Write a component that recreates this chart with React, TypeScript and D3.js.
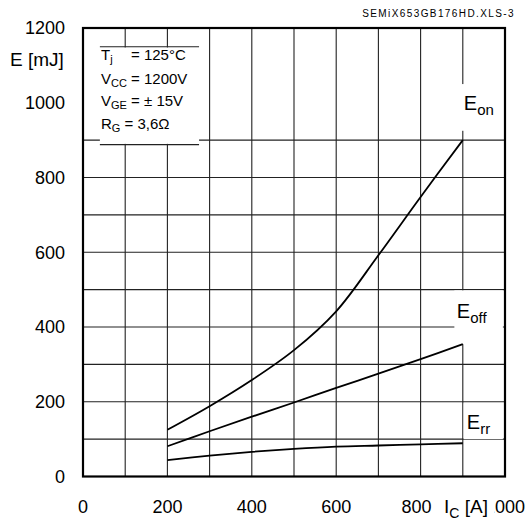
import React from "react";
import * as d3 from "d3";

const current = [200, 300, 400, 500, 600, 700, 800, 900];
const eOn = [125, 188, 258, 338, 442, 592, 748, 900];
const eOff = [81, 121, 160, 198, 237, 275, 314, 354];
const eRr = [44, 56, 66, 74, 80, 83, 86, 89];

const xTicks = [0, 200, 400, 600, 800, 1000];
const yTicks = [0, 200, 400, 600, 800, 1000, 1200];
const xGrid = [100, 200, 300, 400, 500, 600, 700, 800, 900];
const yGrid = [100, 200, 300, 400, 500, 600, 700, 800, 900];

const W = 530;
const H = 526;
const FONT = "'Liberation Sans', Arial, Helvetica, sans-serif";

export default function App() {
  const x = d3.scaleLinear().domain([0, 1000]).range([83, 505]);
  const y = d3.scaleLinear().domain([0, 1200]).range([476.5, 28]);

  const line = d3
    .line<[number, number]>()
    .x((d) => x(d[0]))
    .y((d) => y(d[1]))
    .curve(d3.curveCatmullRom.alpha(0.5));

  const series = [eOn, eOff, eRr].map((s) => line(current.map((c, i) => [c, s[i]] as [number, number])) as string);

  const lastX = current[current.length - 1];

  const Elabel = ({ lx, ly, sub }: { lx: number; ly: number; sub: string }) => (
    <text x={lx} y={ly} fontFamily={FONT} fontSize={20} fill="#000">
      E
      <tspan fontSize={15} dy={5}>
        {sub}
      </tspan>
    </text>
  );

  return (
    <svg
      width={W}
      height={H}
      style={{ position: "absolute", left: 0, top: 0, background: "#fff" }}
    >
      <rect x={0} y={0} width={W} height={H} fill="#fff" />
      {/* grid */}
      <g stroke="#222" strokeWidth={1.1}>
        {xGrid.map((v) => (
          <line key={"gx" + v} x1={x(v)} x2={x(v)} y1={y(1200)} y2={y(0)} />
        ))}
        {yGrid.map((v) => (
          <line key={"gy" + v} x1={x(0)} x2={x(1000)} y1={y(v)} y2={y(v)} />
        ))}
      </g>
      {/* label boxes (white areas that interrupt the grid) */}
      <g fill="#fff">
        <rect x={x(40)} y={y(1148)} width={x(275) - x(40)} height={y(890) - y(1148)} />
        <rect x={x(870)} y={y(1050)} width={x(995) - x(870)} height={y(925) - y(1050)} />
        <rect x={x(880)} y={y(498)} width={x(995) - x(880)} height={y(eOff[eOff.length - 1]) - y(498)} />
        <rect x={x(902)} y={y(196)} width={x(995) - x(902)} height={y(100) - y(196)} />
      </g>
      <g stroke="#222" strokeWidth={1.1}>
        <line x1={x(40)} x2={x(275)} y1={y(1150)} y2={y(1150)} />
        <line x1={x(40)} x2={x(275)} y1={y(888)} y2={y(888)} />
      </g>
      {/* curves */}
      <g fill="none" stroke="#000" strokeWidth={1.8}>
        {series.map((d, i) => (
          <path key={i} d={d} />
        ))}
      </g>
      {/* border */}
      <rect
        x={x(0)}
        y={y(1200)}
        width={x(1000) - x(0)}
        height={y(0) - y(1200)}
        fill="none"
        stroke="#000"
        strokeWidth={2.2}
      />
      {/* y tick labels */}
      <g fontFamily={FONT} fontSize={18} fill="#000" textAnchor="end">
        {yTicks.map((v) => (
          <text key={"yt" + v} x={65} y={y(v)} dy="0.35em">
            {v}
          </text>
        ))}
      </g>
      <text x={10} y={66} fontFamily={FONT} fontSize={19} fill="#000">
        E [mJ]
      </text>
      {/* x tick labels */}
      <g fontFamily={FONT} fontSize={18} fill="#000" textAnchor="middle">
        {xTicks.map((v) => (
          <text key={"xt" + v} x={x(v)} y={513} dx={v === 800 ? -4 : 0}>
            {v}
          </text>
        ))}
      </g>
      <rect x={440} y={496} width={54.5} height={26} fill="#fff" />
      <text x={444} y={513} fontFamily={FONT} fontSize={19} fill="#000">
        I
        <tspan fontSize={14} dy={5}>
          C
        </tspan>
        <tspan dy={-5}> [A]</tspan>
      </text>
      {/* part number */}
      <text
        x={515}
        y={17}
        fontFamily={FONT}
        fontSize={10}
        letterSpacing={1.4}
        textAnchor="end"
        fill="#000"
      >
        SEMiX653GB176HD.XLS-3
      </text>
      {/* conditions */}
      <g fontFamily={FONT} fontSize={15} fill="#000">
        <text x={101} y={60}>
          T<tspan fontSize={11} dy={3}>j</tspan>
          <tspan x={131} dy={-3}>= 125°C</tspan>
        </text>
        <text x={101} y={83.5}>
          V<tspan fontSize={11} dy={3}>CC</tspan>
          <tspan dy={-3}> = 1200V</tspan>
        </text>
        <text x={101} y={106}>
          V<tspan fontSize={11} dy={3}>GE</tspan>
          <tspan dy={-3}> = ± 15V</tspan>
        </text>
        <text x={101} y={128.5}>
          R<tspan fontSize={11} dy={3}>G</tspan>
          <tspan dy={-3}> = 3,6Ω</tspan>
        </text>
      </g>
      {/* curve labels */}
      <Elabel lx={x(lastX) + 1} ly={110} sub="on" />
      <Elabel lx={x(lastX) - 6} ly={318} sub="off" />
      <Elabel lx={x(lastX) + 4} ly={429} sub="rr" />
    </svg>
  );
}
